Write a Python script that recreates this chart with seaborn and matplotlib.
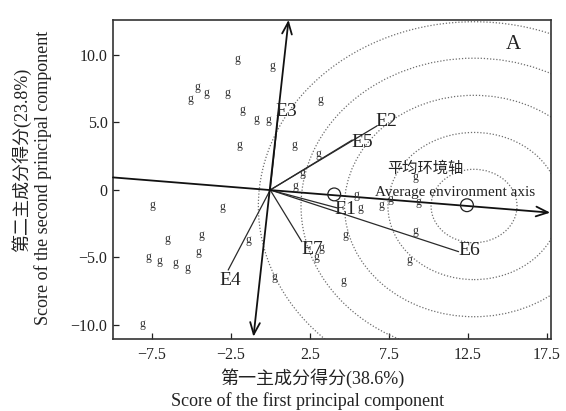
import numpy as np
import pandas as pd
import matplotlib
matplotlib.use("Agg")
import matplotlib.pyplot as plt
import seaborn as sns
from matplotlib.patches import Circle

# ---------------- data ----------------
# genotype scores ("g")
g_x = [-2.06, 0.13, -4.61, -4.02, -5.08, -2.72, 3.15, -1.74, -0.85, -0.14,
       -1.97, 1.51, 3.04, 2.06, 1.57, -7.44, -3.03, -6.51, -4.34, -1.39,
       -7.72, -7.04, -4.55, -6.01, -5.25, 3.26, 2.94, 0.26, -8.09, 9.16,
       5.47, 7.58, 7.06, 9.37, 5.68, 4.73, 9.16, 8.80, 4.63]
g_y = [9.68, 9.21, 7.61, 7.16, 6.76, 7.21, 6.67, 5.93, 5.24, 5.19,
       3.31, 3.36, 2.67, 1.24, 0.30, -1.11, -1.28, -3.65, -3.33, -3.70,
       -4.99, -5.24, -4.61, -5.43, -5.80, -4.32, -4.96, -6.42, -9.95, 0.96,
       -0.37, -0.69, -1.11, -0.87, -1.36, -3.33, -3.04, -5.21, -6.74]

# environment vectors
env_labels = ["E1", "E2", "E3", "E4", "E5", "E6", "E7"]
env_x = [4.24, 6.75, 0.55, -2.66, 5.19, 11.92, 2.00]
env_y = [-1.33, 4.74, 6.00, -5.93, 3.70, -4.57, -3.83]

# average environment axis and its perpendicular
aea_x = [-9.95, 17.72]
aea_y = [0.93, -1.68]
perp_x = [-1.06, 1.16]
perp_y = [-10.87, 12.60]

# small circles on the average environment axis
mark_x = [4.05, 12.45]
mark_y = [-0.33, -1.13]

# concentric rings
ring_cx, ring_cy = 12.9, -1.19
ring_r = [2.72, 5.45, 8.2, 10.95, 13.65]

x_ticks = [-7.5, -2.5, 2.5, 7.5, 12.5, 17.5]
x_ticklabels = ["−7.5", "−2.5", "2.5", "7.5", "12.5", "17.5"]
y_ticks = [-10, -5, 0, 5, 10]
y_ticklabels = ["−10.0", "−5.0", "0", "5.0", "10.0"]

xlabel_cn = "第一主成分得分(38.6%)"
xlabel_en = "Score of the first principal component"
ylabel_cn = "第二主成分得分(23.8%)"
ylabel_en = "Score of the second principal component"
axis_cn = "平均环境轴"
axis_en = "Average environment axis"
panel = "A"

# ---------------- style ----------------
sns.set_style("ticks")
plt.rcParams["font.family"] = ["Liberation Serif", "Noto Sans CJK SC"]
plt.rcParams["axes.unicode_minus"] = True
TXT = "#222222"
LINE = "#111111"

W, H = 566, 411
fig = plt.figure(figsize=(W / 100, H / 100), dpi=100)
L, R, T, B = 113, 551, 20, 339
ax = fig.add_axes([L / W, 1 - B / H, (R - L) / W, (B - T) / H])
ax.set_xlim(-9.95, 17.77)
ax.set_ylim(-11.04, 12.59)

# rings
for r in ring_r:
    ax.add_patch(Circle((ring_cx, ring_cy), r, fill=False, ls=(0, (1, 1.5)),
                        lw=0.9, ec="#6e6e6e", zorder=1))

# environment vectors
rows = []
for lab, x, y in zip(env_labels, env_x, env_y):
    rows.append({"env": lab, "x": 0.0, "y": 0.0})
    rows.append({"env": lab, "x": x, "y": y})
vec = pd.DataFrame(rows)
sns.lineplot(data=vec, x="x", y="y", units="env", estimator=None, sort=False,
             color="#2a2a2a", lw=0.9, ax=ax, legend=False, zorder=3)

# labels of vectors (offsets in pixels)
offs = {"E1": (-3, -2, "left", "center"), "E2": (-1, 4, "left", "center"),
        "E3": (-4, -3, "left", "center"), "E4": (2, -2, "center", "top"),
        "E5": (-1, -2, "left", "center"), "E6": (0, 1, "left", "center"),
        "E7": (0, -8, "left", "center")}
for lab, x, y in zip(env_labels, env_x, env_y):
    dx, dy, ha, va = offs[lab]
    ax.annotate(lab, xy=(x, y), xytext=(dx, dy), textcoords="offset pixels",
                ha=ha, va=va, fontsize=14, color=TXT, zorder=5)

# average environment axis (arrow at right end)
ax.annotate("", xy=(aea_x[1], aea_y[1]), xytext=(aea_x[0], aea_y[0]),
            arrowprops=dict(arrowstyle="->,head_length=0.85,head_width=0.35",
                            lw=1.3, color=LINE, shrinkA=0, shrinkB=0,
                            mutation_scale=10), zorder=4)
# perpendicular axis (arrows at both ends)
ax.annotate("", xy=(perp_x[1], perp_y[1]), xytext=(perp_x[0], perp_y[0]),
            arrowprops=dict(arrowstyle="<->,head_length=0.85,head_width=0.35",
                            lw=1.3, color=LINE, shrinkA=0, shrinkB=0,
                            mutation_scale=10), zorder=4)

# circle markers
sns.scatterplot(x=mark_x, y=mark_y, marker="o", s=85, ax=ax, zorder=5,
                linewidth=0.9, legend=False)
coll = ax.collections[-1]
coll.set_facecolor("none")
coll.set_edgecolor("#222222")

# genotype "g" labels
for x, y in zip(g_x, g_y):
    ax.text(x, y, "g", fontsize=8.5, ha="center", va="center", color="#333333",
            zorder=6)

# annotations
ax.text(9.8, 1.56, axis_cn, fontsize=11, ha="center", va="center", color=TXT,
        zorder=6)
ax.text(6.63, -0.44, axis_en, fontsize=11, ha="left", va="baseline",
        color=TXT, zorder=6)
ax.text(15.4, 10.74, panel, fontsize=15, ha="center", va="center", color=TXT)

# ticks
ax.set_xticks(x_ticks)
ax.set_xticklabels(x_ticklabels)
ax.set_yticks(y_ticks)
ax.set_yticklabels(y_ticklabels)
ax.tick_params(direction="in", length=4, width=0.9, labelsize=11.5,
               colors="#222222", labelcolor=TXT)
ax.tick_params(axis="x", pad=5.5)
ax.tick_params(axis="y", pad=4)
for s in ax.spines.values():
    s.set_visible(True)
    s.set_linewidth(1.2)
    s.set_color("#333333")
ax.set_xlabel("")
ax.set_ylabel("")

# axis labels (two lines each)
fig.text(312 / W, 1 - 384 / H, xlabel_cn, fontsize=13, ha="center",
         va="baseline", color=TXT)
fig.text(308 / W, 1 - 406 / H, xlabel_en, fontsize=13, ha="center",
         va="baseline", color=TXT)
fig.text(21 / W, 1 - 160 / H, ylabel_cn, fontsize=13, ha="center",
         va="center", rotation=90, color=TXT)
fig.text(43 / W, 1 - 178 / H, ylabel_en, fontsize=13, ha="center",
         va="center", rotation=90, color=TXT)

fig.savefig("out.png", dpi=100)
